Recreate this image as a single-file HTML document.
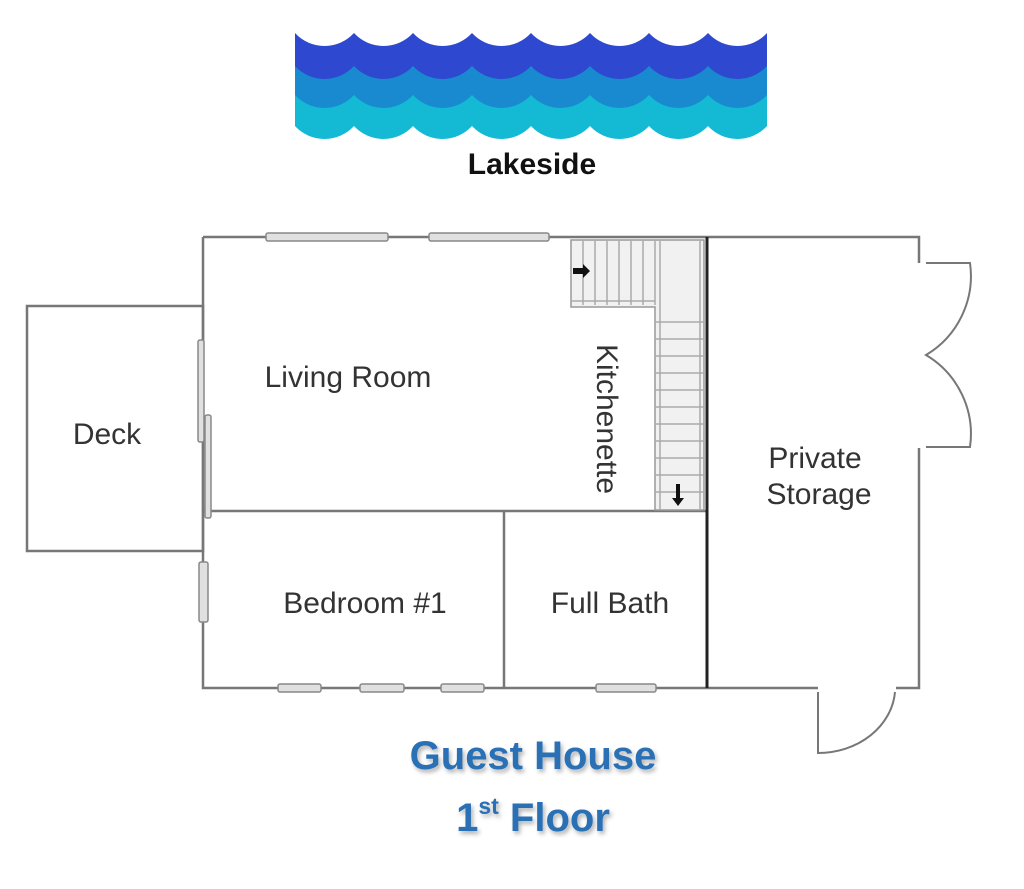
<!DOCTYPE html>
<html><head><meta charset="utf-8"><style>
html,body{margin:0;padding:0;background:#fff;}
svg{display:block;}
</style></head><body>
<svg width="1024" height="889" viewBox="0 0 1024 889" xmlns="http://www.w3.org/2000/svg">
<defs>
<filter id="sh" x="-10%" y="-20%" width="120%" height="150%"><feDropShadow dx="2" dy="3" stdDeviation="2" flood-color="#000" flood-opacity="0.3"/></filter>
</defs>
<!-- waves -->
<path fill="#14bad3" d="M295,88 A40,40 0 0 0 354,88 A40,40 0 0 0 413,88 A40,40 0 0 0 472,88 A40,40 0 0 0 531,88 A40,40 0 0 0 590,88 A40,40 0 0 0 649,88 A40,40 0 0 0 708,88 A40,40 0 0 0 767,88 L767,126 A40,40 0 0 1 708,126 A40,40 0 0 1 649,126 A40,40 0 0 1 590,126 A40,40 0 0 1 531,126 A40,40 0 0 1 472,126 A40,40 0 0 1 413,126 A40,40 0 0 1 354,126 A40,40 0 0 1 295,126 Z"/>
<path fill="#1a8ad0" d="M295,60 A40,40 0 0 0 354,60 A40,40 0 0 0 413,60 A40,40 0 0 0 472,60 A40,40 0 0 0 531,60 A40,40 0 0 0 590,60 A40,40 0 0 0 649,60 A40,40 0 0 0 708,60 A40,40 0 0 0 767,60 L767,95 A40,40 0 0 1 708,95 A40,40 0 0 1 649,95 A40,40 0 0 1 590,95 A40,40 0 0 1 531,95 A40,40 0 0 1 472,95 A40,40 0 0 1 413,95 A40,40 0 0 1 354,95 A40,40 0 0 1 295,95 Z"/>
<path fill="#2e48cf" d="M295,33 A40,40 0 0 0 354,33 A40,40 0 0 0 413,33 A40,40 0 0 0 472,33 A40,40 0 0 0 531,33 A40,40 0 0 0 590,33 A40,40 0 0 0 649,33 A40,40 0 0 0 708,33 A40,40 0 0 0 767,33 L767,66 A40,40 0 0 1 708,66 A40,40 0 0 1 649,66 A40,40 0 0 1 590,66 A40,40 0 0 1 531,66 A40,40 0 0 1 472,66 A40,40 0 0 1 413,66 A40,40 0 0 1 354,66 A40,40 0 0 1 295,66 Z"/>
<text x="532" y="174" text-anchor="middle" font-family="Liberation Sans, sans-serif" font-weight="bold" font-size="30" fill="#111">Lakeside</text>

<g fill="none" stroke="#777" stroke-width="2.5">
<rect x="27" y="306" width="176" height="245"/>
<path d="M203,237 L919,237 L919,263"/>
<path d="M919,448 L919,688 L896,688"/>
<path d="M818,688 L203,688 L203,237"/>
<path d="M203,511 L707,511"/>
<path d="M504,511 L504,688"/>
<path d="M926,263 L970,263 A92,92 0 0 1 926,355 A92,92 0 0 1 970,447 L926,447" stroke-width="2"/>
<path d="M818,692 L818,753 A77,66 0 0 0 895,692" stroke-width="2"/>
</g>
<line x1="707" y1="237" x2="707" y2="688" stroke="#222" stroke-width="3"/>

<g stroke="#999" stroke-width="1.5" fill="#f1f1f1">
<path d="M571,240 L704,240 L704,510 L655,510 L655,307 L571,307 Z"/>
</g>
<g stroke="#aaa" stroke-width="1.5">
<line x1="583" y1="241" x2="583" y2="305"/><line x1="595" y1="241" x2="595" y2="305"/><line x1="607" y1="241" x2="607" y2="305"/><line x1="619" y1="241" x2="619" y2="305"/><line x1="631" y1="241" x2="631" y2="305"/><line x1="643" y1="241" x2="643" y2="305"/><line x1="655" y1="241" x2="655" y2="305"/>
<line x1="571" y1="301" x2="655" y2="301"/>
<line x1="660" y1="241" x2="660" y2="510"/><line x1="700" y1="241" x2="700" y2="510"/>
<line x1="655" y1="322" x2="704" y2="322"/><line x1="655" y1="339" x2="704" y2="339"/><line x1="655" y1="356" x2="704" y2="356"/><line x1="655" y1="373" x2="704" y2="373"/><line x1="655" y1="390" x2="704" y2="390"/><line x1="655" y1="407" x2="704" y2="407"/><line x1="655" y1="424" x2="704" y2="424"/><line x1="655" y1="441" x2="704" y2="441"/><line x1="655" y1="458" x2="704" y2="458"/><line x1="655" y1="475" x2="704" y2="475"/><line x1="655" y1="492" x2="704" y2="492"/>
</g>
<path d="M573,268 L583,268 L583,264 L590,271 L583,278 L583,274 L573,274 Z" fill="#111"/>
<path d="M676,484 L680,484 L680,498 L684,498 L678,506 L672,498 L676,498 Z" fill="#111"/>

<g fill="#e0e0e0" stroke="#888" stroke-width="1.5">
<rect x="266" y="233" width="122" height="8" rx="2"/>
<rect x="429" y="233" width="120" height="8" rx="2"/>
<rect x="198" y="340" width="6" height="102" rx="2"/>
<rect x="205" y="415" width="6" height="103" rx="2"/>
<rect x="199" y="562" width="9" height="60" rx="2"/>
<rect x="278" y="684" width="43" height="8" rx="2"/>
<rect x="360" y="684" width="44" height="8" rx="2"/>
<rect x="441" y="684" width="43" height="8" rx="2"/>
<rect x="596" y="684" width="60" height="8" rx="2"/>
</g>

<g font-family="Liberation Sans, sans-serif" font-size="30" fill="#333">
<text x="107" y="444" text-anchor="middle">Deck</text>
<text x="348" y="387" text-anchor="middle">Living Room</text>
<text x="365" y="613" text-anchor="middle">Bedroom #1</text>
<text x="610" y="613" text-anchor="middle">Full Bath</text>
<text x="815" y="468" text-anchor="middle">Private</text>
<text x="819" y="504" text-anchor="middle">Storage</text>
<text transform="translate(597,419) rotate(90)" text-anchor="middle">Kitchenette</text>
</g>

<g font-family="Liberation Sans, sans-serif" font-weight="bold" fill="#2a6fb5" filter="url(#sh)" text-anchor="middle">
<text x="533" y="769" font-size="40">Guest House</text>
<text x="533" y="831" font-size="40">1<tspan font-size="23" dy="-17">st</tspan><tspan dy="17"> Floor</tspan></text>
</g>
</svg>
</body></html>
